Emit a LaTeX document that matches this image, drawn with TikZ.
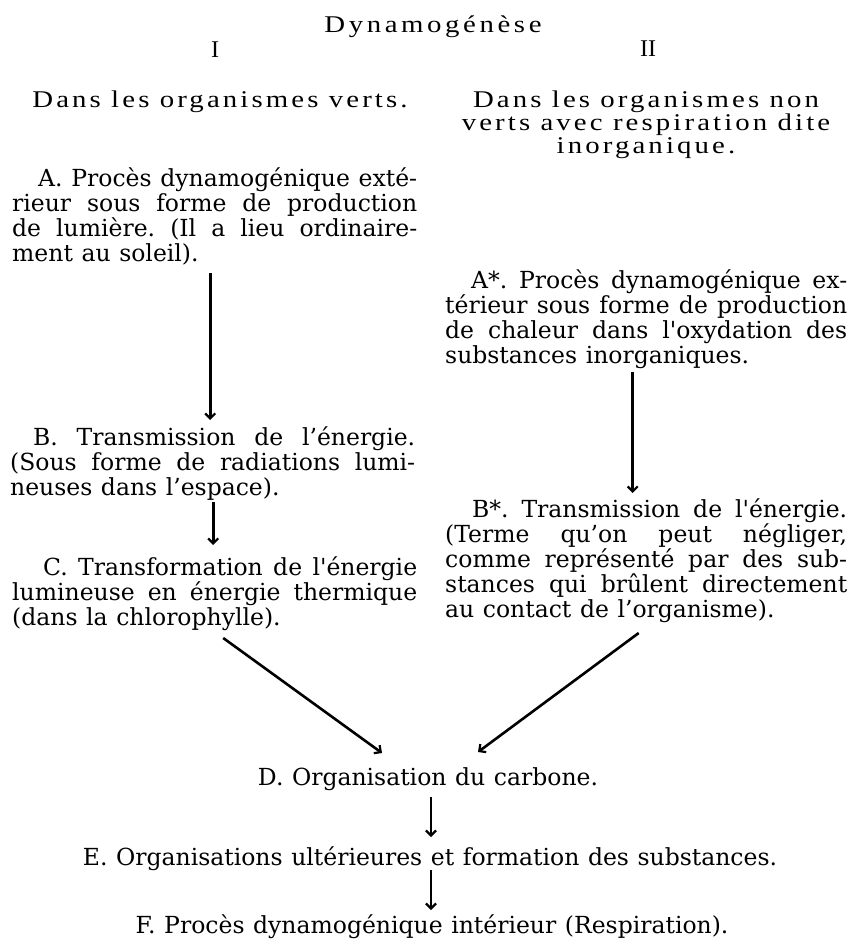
\documentclass[tikz,border=0pt]{standalone}
\usepackage{fontspec}
\setmainfont{DejaVu Serif}[WordSpace=1.15]
\newfontfamily\headfont[FakeStretch=1.2,LetterSpace=13]{Liberation Serif}
\newfontfamily\numfont{Liberation Serif}
\usetikzlibrary{arrows.meta}

% one printed line: justified to the column, or left at its natural width
\newcommand\jline[2][405pt]{\hbox to#1{#2}}
\newcommand\lline[1]{\hbox{#1}}
\newcommand\ctline[2][400pt]{\hbox to#1{\hfil#2\hfil}}

\tikzset{
  textblock/.style = {inner sep=0pt, anchor=base west, font=\fontsize{23.5}{25}\selectfont},
  heading/.style   = {inner sep=0pt, anchor=base, font=\headfont\fontsize{24}{23}\selectfont},
  numeral/.style   = {inner sep=0pt, anchor=base, font=\numfont\fontsize{24}{23}\selectfont},
  arrow/.style     = {line width=2.6pt, -{Straight Barb[length=5pt,width=10pt,line width=2.2pt]}}
}

\begin{document}
\frenchspacing
\begin{tikzpicture}[x=1pt,y=-1pt]
\useasboundingbox (0,0) rectangle (857,939);

% titres
\node (titre)    [heading, font=\headfont\fontsize{24}{23}\selectfont\addfontfeature{LetterSpace=15}] at (433,33) {Dynamogénèse};
\node (num1)     [numeral] at (215,58) {I};
\node (num2)     [numeral] at (648,57) {II};
\node (verts)    [heading] at (220,108) {Dans les organismes verts.};
\node (nonverts) [heading] at (646,108) {\vtop{%
  \ctline{Dans les organismes non}
  \ctline{verts avec respiration dite}
  \ctline{inorganique.}}};

% colonne I
\node (A) [textblock] at (12,186) {\vtop{%
  \jline{\hskip26pt A. Procès dynamogénique exté-}
  \jline{rieur sous forme de production}
  \jline{de lumière. (Il a lieu ordinaire-}
  \lline{ment au soleil).}}};
\node (B) [textblock] at (10,445) {\vtop{%
  \jline{\hskip23pt B. Transmission de l’énergie.}
  \jline{(Sous forme de radiations lumi-}
  \lline{neuses dans l’espace).}}};
\node (C) [textblock] at (12,575) {\vtop{%
  \jline{\hskip31pt C. Transformation de l\textquotesingle énergie}
  \jline{lumineuse en énergie thermique}
  \lline{(dans la chlorophylle).}}};

% colonne II
\node (Aet) [textblock] at (445,288) {\vtop{%
  \jline[402pt]{\hskip26pt A*. Procès dynamogénique ex-}
  \jline[402pt]{térieur sous forme de production}
  \jline[402pt]{de chaleur dans l\textquotesingle oxydation des}
  \lline{substances inorganiques.}}};
\node (Bet) [textblock] at (445,517) {\vtop{%
  \jline[402pt]{\hskip27pt B*. Transmission de l\textquotesingle énergie.}
  \jline[402pt]{(Terme qu’on peut négliger,}
  \jline[402pt]{comme représenté par des sub-}
  \jline[402pt]{stances qui brûlent directement}
  \lline{au contact de l’organisme).}}};

% tronc commun
\node (D) [textblock, anchor=base] at (428,785) {D. Organisation du carbone.};
\node (E) [textblock, anchor=base] at (430,865) {E. Organisations ultérieures et formation des substances.};
\node (F) [textblock, anchor=base] at (432,933) {F. Procès dynamogénique intérieur (Respiration).};

\draw [arrow] ([xshift=-4.5pt,yshift=-87pt]A.base) -- ([xshift=-2.5pt,yshift=25pt]B.base);
\draw [arrow] ([xshift=0.5pt,yshift=-57pt]B.base) -- ([xshift=-1.5pt,yshift=30pt]C.base);
\draw [arrow] ([xshift=-13.5pt,yshift=-84pt]Aet.base) -- ([xshift=-13.5pt,yshift=24pt]Bet.base);
\draw [arrow] ([xshift=8.5pt,yshift=-63pt]C.base) -- ([xshift=-46pt,yshift=32pt]D.base);
\draw [arrow] ([xshift=-7.5pt,yshift=-116pt]Bet.base) -- ([xshift=50pt,yshift=33pt]D.base);
\draw [arrow] ([xshift=3pt,yshift=-12pt]D.base) -- ([xshift=1pt,yshift=28pt]E.base);
\draw [arrow] ([xshift=1pt,yshift=-5pt]E.base) -- ([xshift=-1pt,yshift=23pt]F.base);

\end{tikzpicture}
\end{document}
